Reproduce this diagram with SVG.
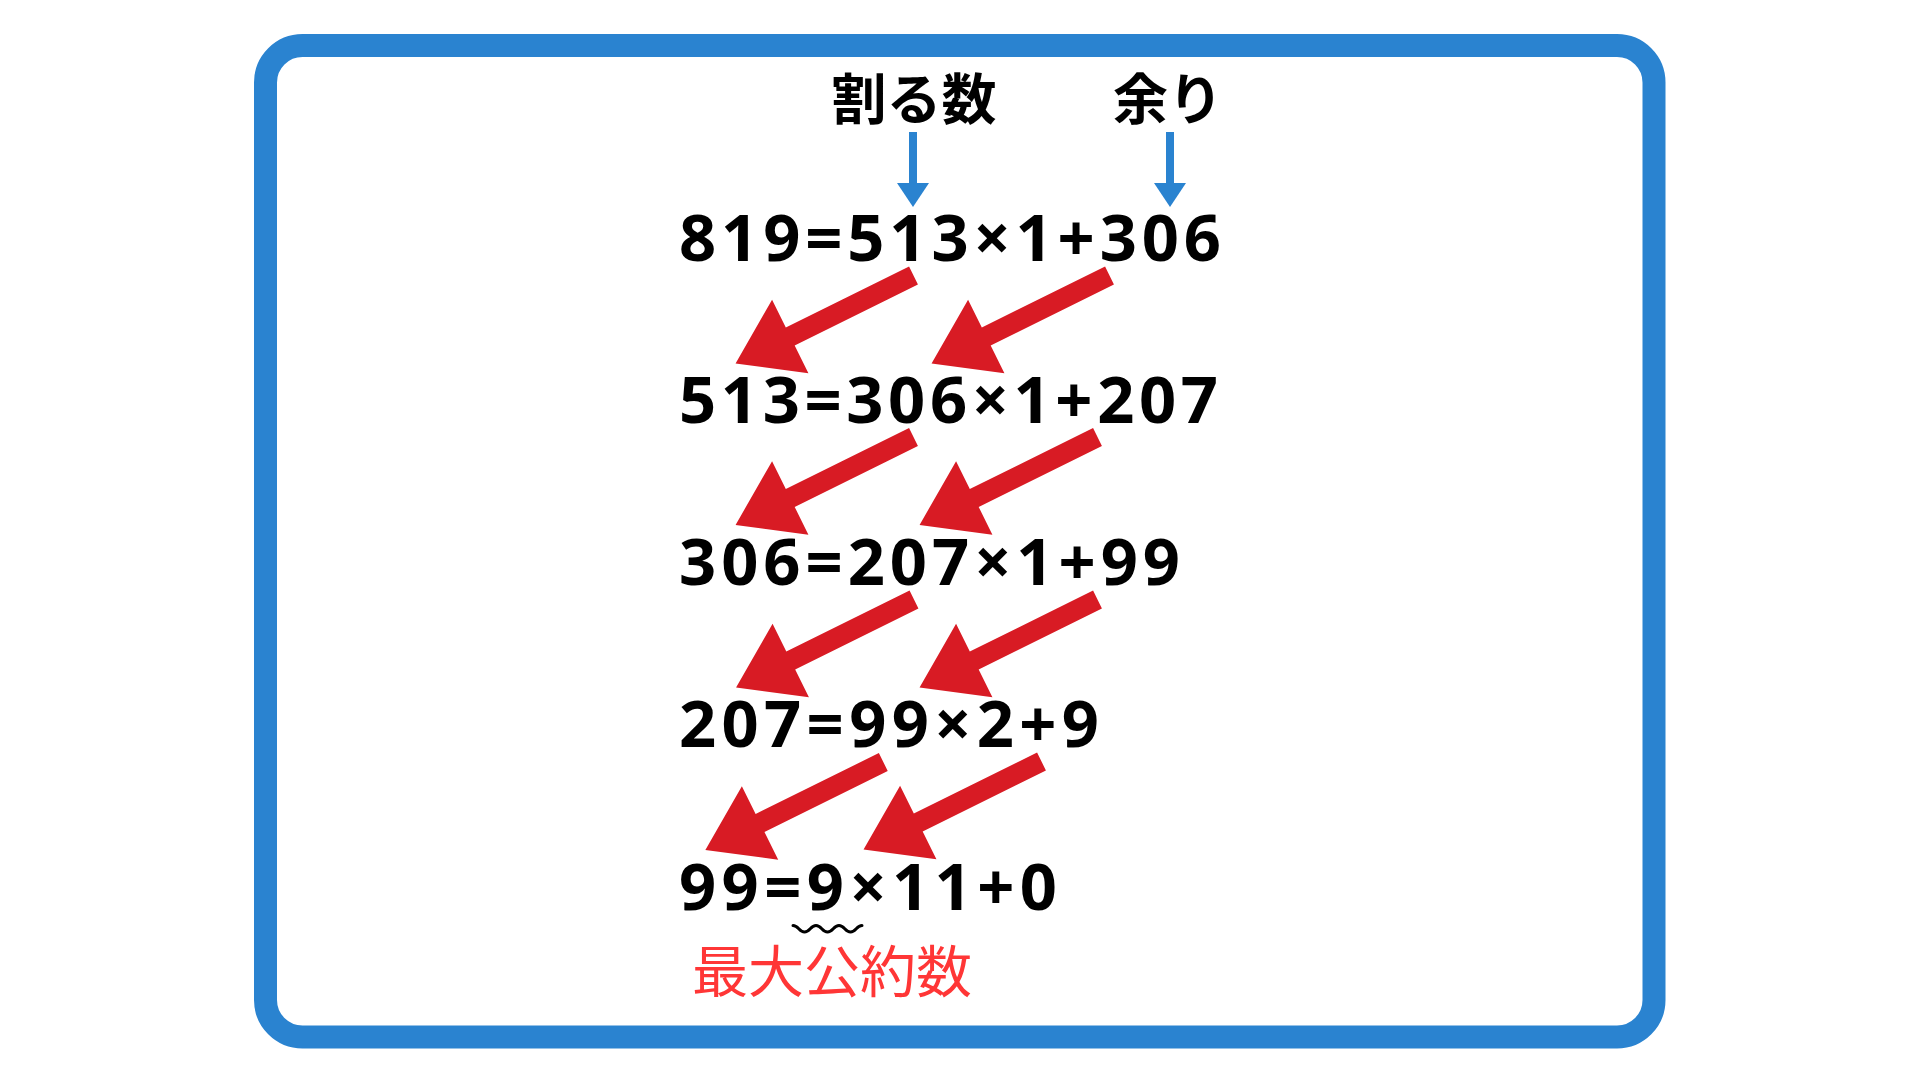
<svg xmlns="http://www.w3.org/2000/svg" xmlns:xlink="http://www.w3.org/1999/xlink" width="1920" height="1080" viewBox="0 0 1920 1080">
  <style>
    .eq { font-family: "Open Sans", "Noto Sans", "Liberation Sans", sans-serif; font-weight: 700; font-size: 65px; fill: #000000; }
    .lbl { font-family: "Noto Sans CJK JP", "Noto Sans", sans-serif; font-weight: 700; font-size: 55px; fill: #000000; text-anchor: middle; }
    .gcd { font-family: "Noto Sans CJK JP", "Noto Sans", sans-serif; font-weight: 400; font-size: 56px; fill: #ff3636; }
    .blue { fill: #2a83d0; }
    .red { fill: #d81b24; }
  </style>
  <defs>
    <polygon id="redArrow" points="0,-10 137.5,-10 137.5,-41 198.5,0 137.5,41 137.5,10 0,10"/>
  </defs>
  <rect width="1920" height="1080" fill="#ffffff"/>
  <g id="frame">
    <rect x="265.5" y="45.5" width="1388.5" height="991.5" rx="37" ry="37" fill="#ffffff" stroke="#2a83d0" stroke-width="23"/>
  </g>
  <g id="label-divisor">
    <text class="lbl" x="914" y="119">割る数</text>
  </g>
  <g id="label-remainder">
    <text class="lbl" x="1168" y="119">余り</text>
  </g>
  <g id="eq1"><text class="eq" x="679" y="261" textLength="542" lengthAdjust="spacing">819=513×1+306</text></g>
  <g id="eq2"><text class="eq" x="679" y="423" textLength="539" lengthAdjust="spacing">513=306×1+207</text></g>
  <g id="eq3"><text class="eq" x="679" y="585" textLength="501" lengthAdjust="spacing">306=207×1+99</text></g>
  <g id="eq4"><text class="eq" x="679" y="747" textLength="420" lengthAdjust="spacing">207=99×2+9</text></g>
  <g id="eq5"><text class="eq" x="679" y="910" textLength="378" lengthAdjust="spacing">99=9×11+0</text></g>
  <g id="gcd-label">
    <text class="gcd" x="692" y="992">最大公約数</text>
  </g>
  <g id="connectors">
    <g class="blue">
      <rect x="909" y="132" width="8" height="52"/>
      <polygon points="897,183 929,183 913,207"/>
      <rect x="1166" y="132" width="8" height="52"/>
      <polygon points="1154,183 1186,183 1170,207"/>
    </g>
    <g class="red">
      <use xlink:href="#redArrow" href="#redArrow" transform="translate(913.5,275.5) rotate(153.69)"/>
      <use xlink:href="#redArrow" href="#redArrow" transform="translate(1109.5,275.5) rotate(153.69)"/>
      <use xlink:href="#redArrow" href="#redArrow" transform="translate(913.5,437) rotate(153.69)"/>
      <use xlink:href="#redArrow" href="#redArrow" transform="translate(1097.5,437) rotate(153.69)"/>
      <use xlink:href="#redArrow" href="#redArrow" transform="translate(914,599.5) rotate(153.69)"/>
      <use xlink:href="#redArrow" href="#redArrow" transform="translate(1097.5,599.5) rotate(153.69)"/>
      <use xlink:href="#redArrow" href="#redArrow" transform="translate(883.3,762) rotate(153.69)"/>
      <use xlink:href="#redArrow" href="#redArrow" transform="translate(1041.5,761.5) rotate(153.69)"/>
    </g>
    <path d="M793,925.5 c5.5,0 6,6.5 11.5,6.5 s6,-6.5 11.5,-6.5 s6,6.5 11.5,6.5 s6,-6.5 11.5,-6.5 s6,6.5 11.5,6.5 s6,-6.5 11.5,-6.5" fill="none" stroke="#000000" stroke-width="3" stroke-linecap="round"/>
  </g>
</svg>
